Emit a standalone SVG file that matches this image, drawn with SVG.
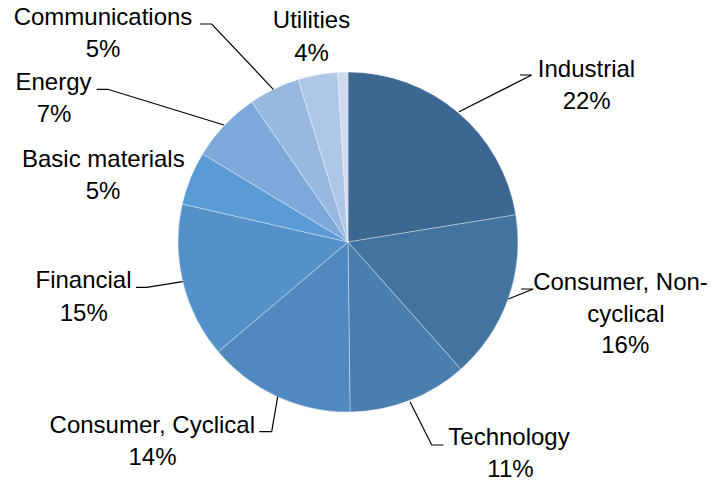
<svg xmlns="http://www.w3.org/2000/svg" width="716" height="483" viewBox="0 0 716 483">
<style>
.s{stroke:#ffffff;stroke-width:0.6;stroke-opacity:0.6}
.t{font-family:"Liberation Sans",Arial,sans-serif;font-size:24px;fill:#000;text-anchor:middle}
.l{fill:none;stroke:#000;stroke-width:1.2}
</style>
<rect width="716" height="483" fill="#fff"/>
<g id="slices">
<g id="industrial"><path class="s" fill="#3B6790" d="M348,242 L348,72 A170,170 0 0 1 515.81,214.82 Z"/></g>
<g id="consumer-noncyclical"><path class="s" fill="#43739F" d="M348,242 L515.81,214.82 A170,170 0 0 1 460.87,369.13 Z"/></g>
<g id="technology"><path class="s" fill="#4A7EAF" d="M348,242 L460.87,369.13 A170,170 0 0 1 350.08,411.99 Z"/></g>
<g id="consumer-cyclical"><path class="s" fill="#4F89BF" d="M348,242 L350.08,411.99 A170,170 0 0 1 218.15,351.73 Z"/></g>
<g id="financial"><path class="s" fill="#5591C9" d="M348,242 L218.15,351.73 A170,170 0 0 1 182.29,204.05 Z"/></g>
<g id="basic-materials"><path class="s" fill="#5B9BD5" d="M348,242 L182.29,204.05 A170,170 0 0 1 202.59,153.93 Z"/></g>
<g id="energy"><path class="s" fill="#7CA9DA" d="M348,242 L202.59,153.93 A170,170 0 0 1 251.71,101.9 Z"/></g>
<g id="communications"><path class="s" fill="#98B8DF" d="M348,242 L251.71,101.9 A170,170 0 0 1 298.30,79.43 Z"/></g>
<g id="utilities"><path class="s" fill="#AEC7E7" d="M348,242 L298.30,79.43 A170,170 0 0 1 337.62,72.32 Z"/></g>
<g id="other"><path class="s" fill="#CCDCF0" d="M348,242 L337.62,72.32 A170,170 0 0 1 348,72 Z"/></g>
</g>
<g id="connectors">
<polyline class="l" points="200,24 211.7,24 273.3,89.3"/>
<polyline class="l" points="96.7,89.3 107.7,89.3 224,125"/>
<polyline class="l" points="520,75 531.7,75 459,111.7"/>
<polyline class="l" points="521,289 533.3,289 508.3,299"/>
<polyline class="l" points="410,401.7 431.7,445 443.3,445"/>
<polyline class="l" points="277.7,396.7 271.7,431.7 259.3,431.7"/>
<polyline class="l" points="182.7,281.7 146.7,287.3 136,287.3"/>
</g>
<g id="labels">
<g id="label-communications"><text class="t" x="103" y="25">Communications</text><text class="t" x="103" y="57">5%</text></g>
<g id="label-utilities"><text class="t" x="311.5" y="28">Utilities</text><text class="t" x="311.5" y="61">4%</text></g>
<g id="label-energy"><text class="t" x="53.5" y="90">Energy</text><text class="t" x="54" y="122">7%</text></g>
<g id="label-basic"><text class="t" x="103.3" y="166.7">Basic materials</text><text class="t" x="103" y="198.5">5%</text></g>
<g id="label-industrial"><text class="t" x="586.5" y="77">Industrial</text><text class="t" x="586.7" y="108.5">22%</text></g>
<g id="label-financial"><text class="t" x="83.5" y="287.5">Financial</text><text class="t" x="83.8" y="320.7">15%</text></g>
<g id="label-cyclical"><text class="t" x="152.3" y="432.7">Consumer, Cyclical</text><text class="t" x="152.5" y="465">14%</text></g>
<g id="label-noncyclical"><text class="t" x="620.5" y="290">Consumer, Non-</text><text class="t" x="625.8" y="321.7">cyclical</text><text class="t" x="625.3" y="353.3">16%</text></g>
<g id="label-technology"><text class="t" x="509" y="445">Technology</text><text class="t" x="510.5" y="476.7">11%</text></g>
</g>
</svg>
